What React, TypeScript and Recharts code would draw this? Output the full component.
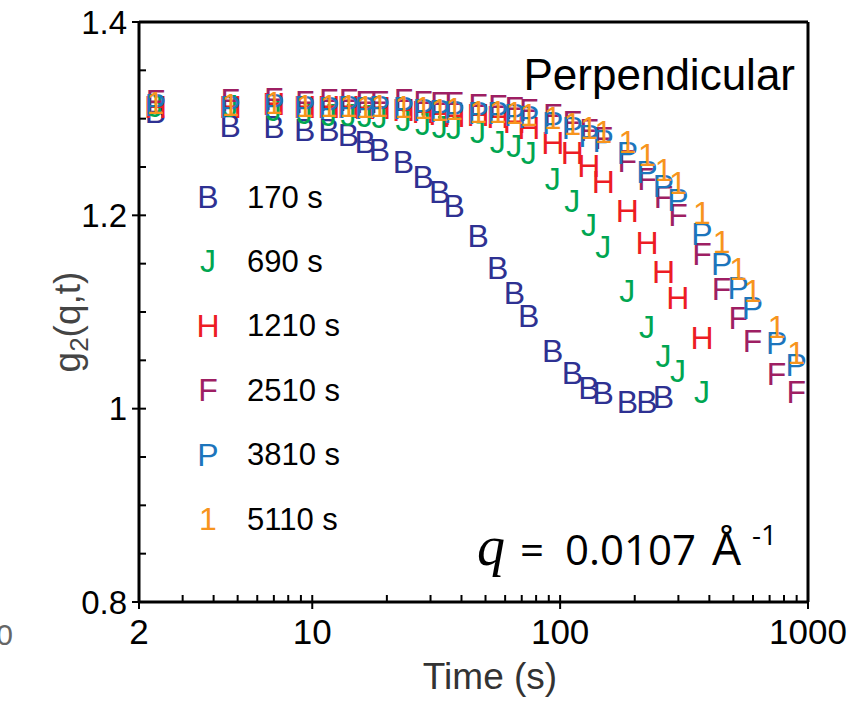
import React from 'react';
import { ScatterChart, Scatter, XAxis, YAxis, ReferenceLine } from 'recharts';

// Delay times (s)
const times = [2.33, 4.67, 7, 9.33, 11.67, 14, 16.33, 18.67, 23.33, 28, 32.67, 37.33, 46.67, 56, 65.33, 74.67, 93.33, 112, 130.67, 149.33, 186.67, 224, 261.33, 298.67, 373.33, 448, 522.67, 597.33, 746.67, 896];

const g170 = [1.307, 1.292, 1.291, 1.288, 1.288, 1.283, 1.276, 1.268, 1.255, 1.240, 1.224, 1.210, 1.179, 1.146, 1.120, 1.096, 1.060, 1.037, 1.021, 1.016, 1.007, 1.007, 1.012];
const g690 = [1.313, 1.313, 1.309, 1.306, 1.304, 1.304, 1.303, 1.302, 1.299, 1.295, 1.291, 1.290, 1.286, 1.276, 1.272, 1.264, 1.238, 1.215, 1.190, 1.167, 1.122, 1.084, 1.055, 1.039, 1.017];
const g1210 = [1.312, 1.312, 1.315, 1.312, 1.312, 1.312, 1.311, 1.311, 1.309, 1.307, 1.305, 1.303, 1.304, 1.302, 1.297, 1.290, 1.275, 1.264, 1.251, 1.235, 1.205, 1.171, 1.141, 1.114, 1.073];
const g2510 = [1.318, 1.319, 1.320, 1.317, 1.319, 1.319, 1.317, 1.317, 1.319, 1.317, 1.316, 1.316, 1.314, 1.313, 1.311, 1.309, 1.304, 1.297, 1.288, 1.280, 1.256, 1.238, 1.219, 1.200, 1.160, 1.124, 1.094, 1.070, 1.036, 1.017];
const g3810 = [1.314, 1.312, 1.314, 1.312, 1.311, 1.312, 1.311, 1.312, 1.311, 1.309, 1.308, 1.307, 1.306, 1.306, 1.304, 1.302, 1.296, 1.290, 1.282, 1.277, 1.264, 1.245, 1.230, 1.216, 1.181, 1.150, 1.125, 1.104, 1.068, 1.045];
const g5110 = [1.316, 1.314, 1.316, 1.313, 1.313, 1.313, 1.312, 1.313, 1.312, 1.311, 1.309, 1.310, 1.307, 1.307, 1.306, 1.304, 1.301, 1.295, 1.290, 1.286, 1.276, 1.262, 1.247, 1.233, 1.202, 1.172, 1.144, 1.122, 1.085, 1.058];

const seriesLabels = ['170 s', '690 s', '1210 s', '2510 s', '3810 s', '5110 s'];
const seriesSymbols = ['B', 'J', 'H', 'F', 'P', '1'];
const seriesColors = ['#2e3192', '#00a651', '#ed1c24', '#9e1f63', '#1c75bc', '#f7941d'];
const seriesValues = [g170, g690, g1210, g2510, g3810, g5110];

const xMajorTicks = [2, 10, 100, 1000];
const xMinorTicks = [3, 4, 5, 6, 7, 8, 9, 20, 30, 40, 50, 60, 70, 80, 90, 200, 300, 400, 500, 600, 700, 800, 900];
const yMajorTicks = [0.8, 1, 1.2, 1.4];
const yMinorTicks = [0.85, 0.9, 0.95, 1.05, 1.1, 1.15, 1.25, 1.3, 1.35];

const FONT = "'Liberation Sans', Arial, sans-serif";
const X_TICK_SIZE = 7;
const X_TICK_MARGIN = 10;
const Y_TICK_SIZE = 7;
const Y_TICK_MARGIN = 5;
const TICK_LEN = 7;

const makeShape = (sym: string, color: string) => (props: any) => {
  const { cx, cy } = props;
  if (cx == null || cy == null) return <g />;
  return (
    <text x={cx} y={cy} textAnchor="middle" dominantBaseline="central" fontSize={32} fill={color} fontFamily={FONT}>
      {sym}
    </text>
  );
};

const XTick = (props: any) => {
  const { x, y, payload } = props;
  const v = payload.value;
  const major = xMajorTicks.includes(v);
  const axisY = y - X_TICK_SIZE - X_TICK_MARGIN;
  return (
    <g>
      <line x1={x} x2={x} y1={axisY - TICK_LEN} y2={major ? axisY + TICK_LEN : axisY} stroke="#000" strokeWidth={2} />
      {major && (
        <text x={x} y={y} dy="0.71em" textAnchor="middle" fontSize={35} fill="#000" fontFamily={FONT}>
          {v}
        </text>
      )}
    </g>
  );
};

const YTick = (props: any) => {
  const { x, y, payload } = props;
  const v = payload.value;
  const major = yMajorTicks.includes(v);
  const axisX = x + Y_TICK_SIZE + Y_TICK_MARGIN;
  return (
    <g>
      <line x1={major ? axisX - TICK_LEN : axisX} x2={axisX + TICK_LEN} y1={y} y2={y} stroke="#000" strokeWidth={2} />
      {major && (
        <text x={x} y={y} dy="0.355em" textAnchor="end" fontSize={33} fill="#000" fontFamily={FONT}>
          {v}
        </text>
      )}
    </g>
  );
};

export default function App() {
  const datasets = seriesValues.map((vals) => vals.map((g, i) => ({ t: times[i], g })));
  const xTicks = [...xMajorTicks, ...xMinorTicks].sort((a, b) => a - b);
  const yTicks = [...yMajorTicks, ...yMinorTicks].sort((a, b) => a - b);
  return (
    <div style={{ position: 'absolute', left: 0, top: 0, width: 865, height: 701, background: '#fff' }}>
      <ScatterChart width={865} height={701} margin={{ top: 22, right: 57, bottom: 0, left: 0 }}>
        <XAxis
          xAxisId="x"
          dataKey="t"
          type="number"
          scale="log"
          domain={[2, 1000]}
          allowDataOverflow
          ticks={xTicks}
          interval={0}
          height={99}
          tickSize={X_TICK_SIZE}
          tickMargin={X_TICK_MARGIN}
          axisLine={{ stroke: '#000', strokeWidth: 3 }}
          tickLine={false}
          tick={<XTick />}
        />
        <YAxis
          yAxisId="y"
          dataKey="g"
          type="number"
          domain={[0.8, 1.4]}
          allowDataOverflow
          ticks={yTicks}
          interval={0}
          width={139}
          tickSize={Y_TICK_SIZE}
          tickMargin={Y_TICK_MARGIN}
          axisLine={{ stroke: '#000', strokeWidth: 3 }}
          tickLine={false}
          tick={<YTick />}
        />
        <ReferenceLine xAxisId="x" yAxisId="y" y={1.4} stroke="#000" strokeWidth={3} />
        <ReferenceLine xAxisId="x" yAxisId="y" x={1000} stroke="#000" strokeWidth={3} />
        {datasets.map((d, k) => (
          <Scatter
            key={seriesLabels[k]}
            name={seriesLabels[k]}
            data={d}
            xAxisId="x"
            yAxisId="y"
            dataKey="g"
            isAnimationActive={false}
            shape={makeShape(seriesSymbols[k], seriesColors[k])}
          />
        ))}
        {/* Legend */}
        <g>
          {seriesLabels.map((lab, k) => (
            <g key={lab}>
              <text x={208} y={197 + k * 64.4} textAnchor="middle" dominantBaseline="central" fontSize={32} fill={seriesColors[k]} fontFamily={FONT}>
                {seriesSymbols[k]}
              </text>
              <text x={247} y={197 + k * 64.4} dominantBaseline="central" fontSize={31} fill="#000" fontFamily={FONT}>
                {lab}
              </text>
            </g>
          ))}
        </g>
        <text x={795} y={90} textAnchor="end" fontSize={44} fill="#000" fontFamily={FONT}>
          Perpendicular
        </text>
        <text y={565} fontSize={42} fill="#000" fontFamily="'Open Sans', sans-serif">
          <tspan x={477} fontFamily="'Liberation Serif', 'Times New Roman', serif" fontStyle="italic" fontSize={56}>q</tspan>
          <tspan x={520}>=</tspan>
          <tspan x={565}>0.0107</tspan>
          <tspan x={712} fontSize={46}>Å</tspan>
        </text>
        <text x={752} y={545} fontSize={28} fill="#000" fontFamily="'Open Sans', sans-serif">
          -1
        </text>
        <text x={490} y={689} textAnchor="middle" fontSize={37} fill="#333" fontFamily={FONT}>
          Time (s)
        </text>
        <text x={80} y={322} textAnchor="middle" fontSize={37} fill="#444" fontFamily={FONT} transform="rotate(-90 80 322)">
          <tspan>g</tspan>
          <tspan dy={8} fontSize={26}>2</tspan>
          <tspan dy={-8}>(q,t)</tspan>
        </text>
        <text x={13} y={645} textAnchor="end" fontSize={30} fill="#666" fontFamily={FONT}>
          0
        </text>
      </ScatterChart>
    </div>
  );
}
